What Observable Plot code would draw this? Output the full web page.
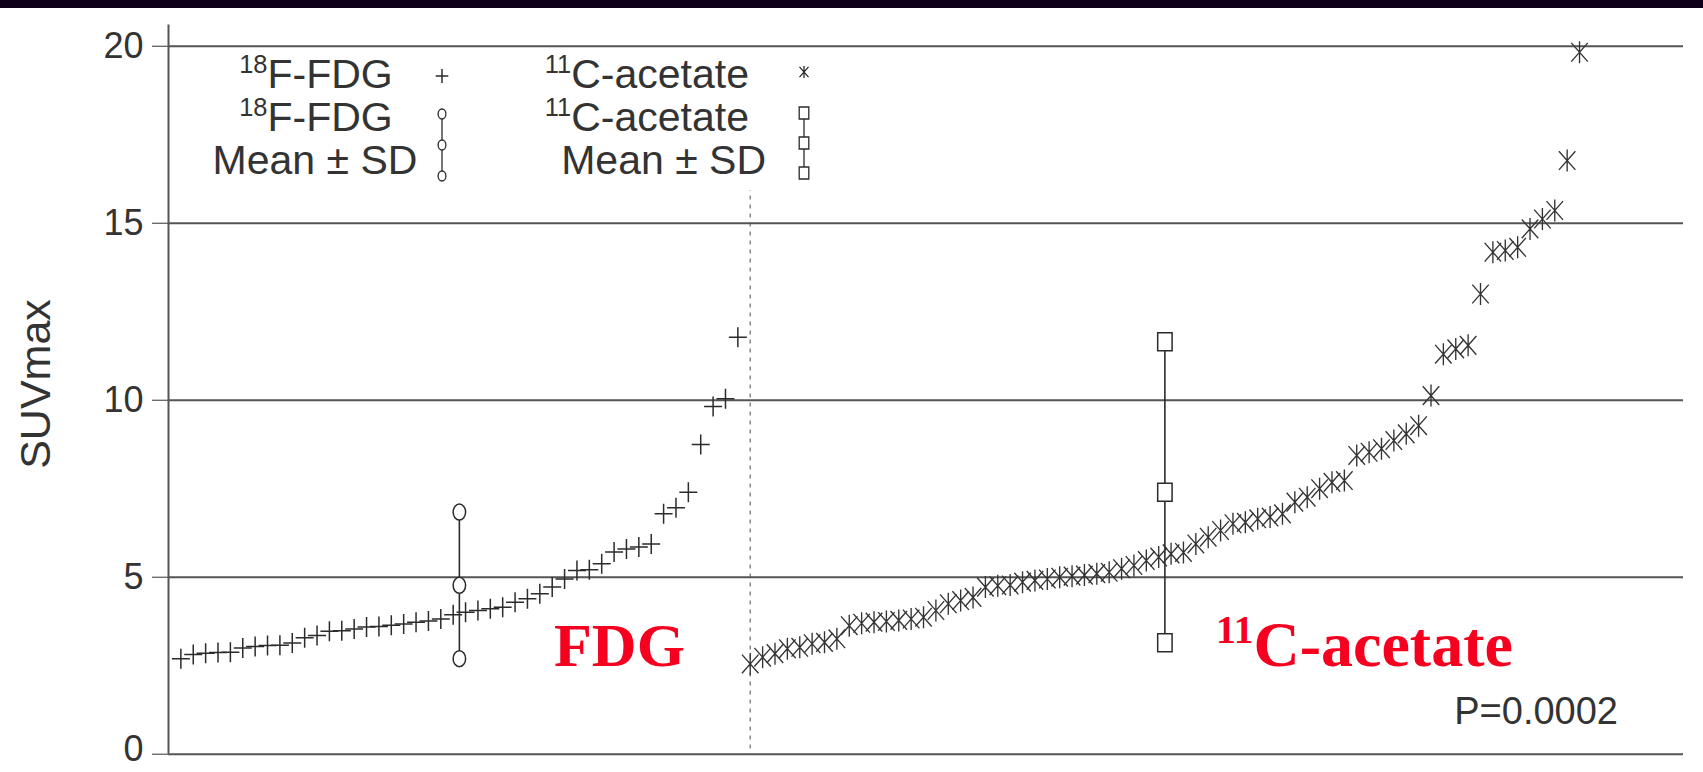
<!DOCTYPE html>
<html><head><meta charset="utf-8">
<script src="https://cdn.jsdelivr.net/npm/d3@7"></script>
<script src="https://cdn.jsdelivr.net/npm/@observablehq/plot@0.6"></script>
<style>
html,body{margin:0;padding:0;background:#fff;}
#wrap{position:relative;width:1703px;height:772px;overflow:hidden;background:#fff;}
#chart{position:absolute;left:0;top:0;}
#topbar{position:absolute;left:0;top:0;width:1703px;height:8px;background:#0e0019;}
</style></head><body>
<div id="wrap"><div id="chart"></div><div id="topbar"></div></div>
<script>
// ---- data ----
const fdgValues = [2.70, 2.82, 2.85, 2.87, 2.88, 3.00, 3.04, 3.07, 3.08, 3.14, 3.29, 3.35, 3.47, 3.49, 3.54, 3.59, 3.61, 3.64, 3.68, 3.73, 3.76, 3.82, 3.94, 4.01, 4.06, 4.11, 4.15, 4.29, 4.39, 4.53, 4.72, 4.95, 5.19, 5.21, 5.38, 5.71, 5.80, 5.85, 5.94, 6.79, 6.96, 7.40, 8.75, 9.82, 10.04, 11.78];
const acetateValues = [2.55, 2.74, 2.84, 2.98, 3.02, 3.12, 3.16, 3.26, 3.63, 3.70, 3.73, 3.75, 3.78, 3.82, 3.87, 4.06, 4.25, 4.34, 4.43, 4.72, 4.76, 4.78, 4.86, 4.91, 4.95, 5.00, 5.03, 5.06, 5.10, 5.14, 5.24, 5.33, 5.47, 5.57, 5.66, 5.70, 5.94, 6.13, 6.32, 6.51, 6.55, 6.65, 6.70, 6.79, 7.12, 7.26, 7.50, 7.68, 7.73, 8.44, 8.53, 8.63, 8.86, 9.05, 9.28, 10.13, 11.30, 11.45, 11.55, 13.00, 14.18, 14.23, 14.32, 14.84, 15.12, 15.36, 16.77, 19.83];
const groupNames = ["FDG", "11C-acetate"];
const groupMeans = [4.77, 7.40];
const groupSDs = [2.07, 4.25];
const yTicks = [0, 5, 10, 15, 20];
const pValueLabel = "P=0.0002";

// ---- derived tables ----
const n1 = fdgValues.length, n2 = acetateValues.length;
const fdgPts = fdgValues.map((v, i) => ({idx: i + 1, v}));
const acePts = acetateValues.map((v, i) => ({idx: n1 + 1 + i, v}));
const centers = [(1 + n1) / 2, (n1 + 1 + n1 + n2) / 2];
const summary = groupNames.map((g, k) => ({g, idx: centers[k], mean: groupMeans[k], sd: groupSDs[k]}));
const summaryPts = summary.flatMap(s => [s.mean - s.sd, s.mean, s.mean + s.sd].map(v => ({g: s.g, idx: s.idx, v})));

// ---- custom symbols ----
const R = s => Math.sqrt(s / Math.PI);
const plusSym = {draw(c, s) { const r = R(s); c.moveTo(-r * 0.9, 0); c.lineTo(r * 0.9, 0); c.moveTo(0, -r); c.lineTo(0, r); }};
const starSym = {draw(c, s) { const r = R(s), a = r * 0.75, b = r * 0.85; c.moveTo(0, -r); c.lineTo(0, r); c.moveTo(-a, -b); c.lineTo(a, b); c.moveTo(-a, b); c.lineTo(a, -b); }};
const ellSym = {draw(c, s) { const r = R(s), rx = r * 0.78, ry = r, k = 0.5523;
  c.moveTo(0, -ry); c.bezierCurveTo(k * rx, -ry, rx, -k * ry, rx, 0); c.bezierCurveTo(rx, k * ry, k * rx, ry, 0, ry);
  c.bezierCurveTo(-k * rx, ry, -rx, k * ry, -rx, 0); c.bezierCurveTo(-rx, -k * ry, -k * rx, -ry, 0, -ry); c.closePath(); }};
const boxSym = {draw(c, s) { const r = R(s); c.rect(-r * 0.8, -r, r * 1.6, r * 2); }};

const ink = "#2b2b2b";
const chart = Plot.plot({
  width: 1703, height: 772,
  marginLeft: 168, marginRight: 20, marginTop: 24.5, marginBottom: 18.3,
  x: {domain: [0, 122.4], axis: null},
  y: {domain: [0, 20.6], ticks: yTicks, tickSize: 16, tickPadding: 9, label: null},
  style: {fontFamily: "'Liberation Sans', Arial, sans-serif", fontSize: "36px", color: "#333", background: "transparent", overflow: "visible"},
  marks: [
    Plot.ruleX([n1 + 1], {stroke: "#888", strokeWidth: 1.5, strokeDasharray: "4,5"}),
    Plot.ruleY(yTicks, {stroke: "#555", strokeWidth: 2}),
    Plot.ruleX([0], {stroke: "#555", strokeWidth: 2}),
    Plot.ruleX(summary, {x: "idx", y1: d => d.mean - d.sd, y2: d => d.mean + d.sd, stroke: ink, strokeWidth: 1.6}),
    Plot.dot(fdgPts, {x: "idx", y: "v", symbol: plusSym, r: 10, fill: "none", stroke: ink, strokeWidth: 1.5}),
    Plot.dot(acePts, {x: "idx", y: "v", symbol: starSym, r: 11, fill: "none", stroke: "#333", strokeWidth: 1.35}),
    Plot.dot(summaryPts.filter(d => d.g === "FDG"), {x: "idx", y: "v", symbol: ellSym, r: 8, fill: "white", stroke: ink, strokeWidth: 1.5}),
    Plot.dot(summaryPts.filter(d => d.g !== "FDG"), {x: "idx", y: "v", symbol: boxSym, r: 9, fill: "white", stroke: ink, strokeWidth: 1.5})
  ]
});
document.getElementById("chart").appendChild(chart);
// keep the bottom tick label inside the picture (nudge it up slightly)
chart.querySelectorAll("text").forEach(t => { if (t.textContent.trim() === "0") t.setAttribute("dy", "-0.12em"); });

// ---- legend & annotations (overlay text) ----
const svg = d3.select(chart);
const font = "'Liberation Sans', Arial, sans-serif";
// white legend background sits just above the dotted divider, beneath the grid lines
const dashed = chart.querySelector("[stroke-dasharray]");
const bg = document.createElementNS("http://www.w3.org/2000/svg", "rect");
bg.setAttribute("x", 185); bg.setAttribute("y", 24); bg.setAttribute("width", 650); bg.setAttribute("height", 166); bg.setAttribute("fill", "white");
dashed.parentNode.insertBefore(bg, dashed.nextSibling);

const lg = svg.append("g");
function supText(g, x, y, sup, main, anchor, size, fam, weight, fill) {
  const t = g.append("text").attr("x", x).attr("y", y).attr("text-anchor", anchor)
    .attr("font-family", fam).attr("font-size", size).attr("font-weight", weight || "normal").attr("fill", fill || "#333");
  if (sup) {
    t.append("tspan").attr("font-size", size * 0.62).attr("dy", -size * 0.36).text(sup);
    t.append("tspan").attr("dy", size * 0.36).text(main);
  } else t.text(main);
  return t;
}
supText(lg, 316, 88, "18", "F-FDG", "middle", 41, font);
supText(lg, 316, 131, "18", "F-FDG", "middle", 41, font);
supText(lg, 315, 174, null, "Mean \u00b1 SD", "middle", 41, font);
supText(lg, 749, 88, "11", "C-acetate", "end", 41, font);
supText(lg, 749, 131, "11", "C-acetate", "end", 41, font);
supText(lg, 766, 174, null, "Mean \u00b1 SD", "end", 41, font);
// legend symbols
lg.append("path").attr("transform", "translate(442,76)").attr("d", d3.symbol(plusSym, Math.PI * 49)()).attr("fill", "none").attr("stroke", ink).attr("stroke-width", 1.5);
lg.append("path").attr("transform", "translate(804,72)").attr("d", d3.symbol(starSym, Math.PI * 36)()).attr("fill", "none").attr("stroke", ink).attr("stroke-width", 1.3);
lg.append("line").attr("x1", 442).attr("x2", 442).attr("y1", 114).attr("y2", 176).attr("stroke", ink).attr("stroke-width", 1.3);
[114, 145, 176].forEach(y => lg.append("path").attr("transform", `translate(442,${y})`).attr("d", d3.symbol(ellSym, Math.PI * 25)()).attr("fill", "white").attr("stroke", ink).attr("stroke-width", 1.3));
lg.append("line").attr("x1", 804).attr("x2", 804).attr("y1", 113).attr("y2", 173).attr("stroke", ink).attr("stroke-width", 1.3);
[113, 143, 173].forEach(y => lg.append("path").attr("transform", `translate(804,${y})`).attr("d", d3.symbol(boxSym, Math.PI * 36)()).attr("fill", "white").attr("stroke", ink).attr("stroke-width", 1.3));

// axis title
svg.append("text").attr("transform", "translate(50,384) rotate(-90)").attr("text-anchor", "middle")
  .attr("font-family", font).attr("font-size", 43).attr("fill", "#333").text("SUVmax");
// red annotations
const serif = "'Liberation Serif', 'Times New Roman', serif";
supText(svg, 554, 666, null, "FDG", "start", 62, serif, "bold", "#f5001e");
supText(svg, 1216, 666, "11", "C-acetate", "start", 64, serif, "bold", "#f5001e");
svg.append("text").attr("x", 1618).attr("y", 724).attr("text-anchor", "end").attr("font-family", font)
  .attr("font-size", 38).attr("fill", "#333").text(pValueLabel);
</script>
</body></html>
